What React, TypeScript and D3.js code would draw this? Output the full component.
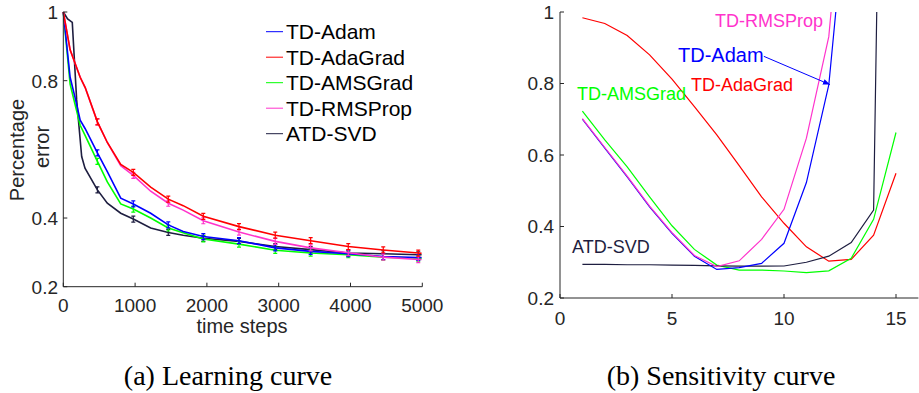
import React, { useEffect, useRef } from 'react';
import * as d3 from 'd3';

// ---- (a) learning curve data ----
const stepsA = [0, 95, 165, 235, 305, 475, 613, 800, 975, 1217, 1462, 1670, 1950, 2447, 2952, 3445, 3969, 4456, 4944, 4990];
const adamA = [1.0, 0.81, 0.75, 0.685, 0.66, 0.59, 0.535, 0.458, 0.441, 0.414, 0.38, 0.361, 0.346, 0.334, 0.313, 0.303, 0.296, 0.288, 0.285, 0.285];
const adagradA = [1.0, 0.89, 0.85, 0.81, 0.78, 0.68, 0.62, 0.556, 0.533, 0.49, 0.455, 0.436, 0.405, 0.375, 0.35, 0.334, 0.317, 0.307, 0.298, 0.297];
const amsgradA = [1.0, 0.79, 0.73, 0.67, 0.64, 0.565, 0.505, 0.441, 0.426, 0.4, 0.371, 0.357, 0.339, 0.324, 0.306, 0.298, 0.293, 0.286, 0.283, 0.283];
const rmspropA = [1.0, 0.89, 0.85, 0.81, 0.78, 0.68, 0.62, 0.552, 0.524, 0.478, 0.443, 0.423, 0.392, 0.359, 0.332, 0.313, 0.299, 0.286, 0.279, 0.279];
const stepsSvd = [0, 60, 125, 186, 256, 302, 475, 613, 800, 975, 1217, 1462, 1670, 1950, 2447, 2952, 3445, 3969, 4456, 4944, 4990];
const svdA = [1.0, 0.98, 0.97, 0.744, 0.579, 0.545, 0.482, 0.443, 0.414, 0.397, 0.371, 0.358, 0.35, 0.341, 0.332, 0.317, 0.308, 0.298, 0.296, 0.293, 0.293];
const markerSteps = [475, 975, 1462, 1950, 2447, 2952, 3445, 3969, 4456, 4944];
const xTicksA = [0, 1000, 2000, 3000, 4000, 5000];
const yTicksA = [0.2, 0.4, 0.8, 1];

// ---- (b) sensitivity curve data ----
const paramB = [1, 2, 3, 4, 5, 6, 7, 8, 9, 10, 11, 12, 13, 14, 15];
const adamB = [0.7, 0.619, 0.539, 0.455, 0.381, 0.317, 0.28, 0.285, 0.297, 0.353, 0.523, 0.796, 1.45];
const rmspropB = [0.702, 0.621, 0.541, 0.457, 0.383, 0.319, 0.288, 0.304, 0.364, 0.448, 0.647, 0.931, 1.62];
const adagradB = [0.984, 0.968, 0.934, 0.88, 0.812, 0.735, 0.656, 0.57, 0.483, 0.409, 0.343, 0.303, 0.308, 0.376, 0.549];
const amsgradB = [0.723, 0.642, 0.567, 0.483, 0.402, 0.336, 0.292, 0.278, 0.278, 0.2755, 0.271, 0.276, 0.311, 0.42, 0.663];
const svdB = [0.294, 0.294, 0.293, 0.293, 0.292, 0.291, 0.29, 0.289, 0.289, 0.2895, 0.3, 0.317, 0.355, 0.446, 4.4];
const xTicksB = [0, 5, 10, 15];
const yTicksB = [0.2, 0.4, 0.6, 0.8, 1];

const names = ['TD-Adam', 'TD-AdaGrad', 'TD-AMSGrad', 'TD-RMSProp', 'ATD-SVD'];
const colors = ['#0000ff', '#ff0000', '#00ff00', '#ff33cc', '#1e1e40'];

const AX = '#262626';
const FONT = '"Liberation Sans", Arial, sans-serif';

export default function App() {
  const ref = useRef<SVGSVGElement>(null);

  useEffect(() => {
    const svg = d3.select(ref.current);
    svg.selectAll('*').remove();

    // ================= (a) =================
    const xA = d3.scaleLinear().domain([0, 5000]).range([63.3, 422.3]);
    const yA = d3.scaleLinear().domain([0.2, 1]).range([286.7, 12]);
    const gA = svg.append('g');

    const seriesA = [
      { steps: stepsA, vals: adamA },
      { steps: stepsA, vals: adagradA },
      { steps: stepsA, vals: amsgradA },
      { steps: stepsA, vals: rmspropA },
      { steps: stepsSvd, vals: svdA },
    ];
    const lineA = d3
      .line<[number, number]>()
      .x((d) => xA(d[0]))
      .y((d) => yA(d[1]));
    // draw order: svd, amsgrad, adam, rmsprop, adagrad
    [4, 2, 0, 3, 1].forEach((si) => {
      const s = seriesA[si];
      const pts = s.steps.map((t, i) => [t, s.vals[i]] as [number, number]);
      gA.append('path')
        .attr('d', lineA(pts))
        .attr('fill', 'none')
        .attr('stroke', colors[si])
        .attr('stroke-width', 1.6);
      pts
        .filter((p) => markerSteps.includes(p[0]))
        .forEach((p) => {
          const cx = xA(p[0]);
          const cy = yA(p[1]);
          gA.append('path')
            .attr('d', `M${cx},${cy - 3}V${cy + 3}M${cx - 2},${cy - 3}H${cx + 2}M${cx - 2},${cy + 3}H${cx + 2}`)
            .attr('stroke', colors[si])
            .attr('stroke-width', 1.2)
            .attr('fill', 'none');
        });
    });

    // axes
    gA.append('path')
      .attr('d', `M${xA(0)},${yA(1)}V${yA(0.2)}H${xA(5000)}`)
      .attr('fill', 'none')
      .attr('stroke', AX)
      .attr('stroke-width', 1);
    xTicksA.forEach((t) => {
      gA.append('line')
        .attr('x1', xA(t)).attr('x2', xA(t))
        .attr('y1', yA(0.2)).attr('y2', yA(0.2) - 4)
        .attr('stroke', AX);
      gA.append('text')
        .attr('x', xA(t))
        .attr('y', 312)
        .attr('text-anchor', 'middle')
        .attr('font-size', 19)
        .attr('font-family', FONT)
        .attr('fill', AX)
        .text(t);
    });
    yTicksA.forEach((t) => {
      gA.append('line')
        .attr('x1', xA(0)).attr('x2', xA(0) + 4)
        .attr('y1', yA(t)).attr('y2', yA(t))
        .attr('stroke', AX);
      gA.append('text')
        .attr('x', 58)
        .attr('y', yA(t))
        .attr('dy', '0.36em')
        .attr('text-anchor', 'end')
        .attr('font-size', 19)
        .attr('font-family', FONT)
        .attr('fill', AX)
        .text(t);
    });
    gA.append('text')
      .attr('x', 242)
      .attr('y', 333)
      .attr('text-anchor', 'middle')
      .attr('font-size', 20)
      .attr('font-family', FONT)
      .attr('fill', AX)
      .text('time steps');
    gA.append('text')
      .attr('transform', 'translate(24,150) rotate(-90)')
      .attr('text-anchor', 'middle')
      .attr('font-size', 20)
      .attr('font-family', FONT)
      .attr('fill', AX)
      .text('Percentage');
    gA.append('text')
      .attr('transform', 'translate(49,147) rotate(-90)')
      .attr('text-anchor', 'middle')
      .attr('font-size', 20)
      .attr('font-family', FONT)
      .attr('fill', AX)
      .text('error');

    // legend
    names.forEach((n, i) => {
      const cy = 31.7 + i * 25.5;
      gA.append('line')
        .attr('x1', 266).attr('x2', 283)
        .attr('y1', cy).attr('y2', cy)
        .attr('stroke', colors[i])
        .attr('stroke-width', 1);
      gA.append('text')
        .attr('x', 286)
        .attr('y', cy)
        .attr('dy', '0.36em')
        .attr('font-size', 21)
        .attr('font-family', FONT)
        .attr('fill', '#000')
        .text(n);
    });

    // ================= (b) =================
    const xB = d3.scaleLinear().domain([0, 16]).range([560, 918.4]);
    const yB = d3.scaleLinear().domain([0.2, 1]).range([298, 12]);
    const gB = svg.append('g');
    const defs = svg.append('defs');
    defs.append('clipPath')
      .attr('id', 'clipB')
      .append('rect')
      .attr('x', 560)
      .attr('y', yB(1))
      .attr('width', 360)
      .attr('height', yB(0.2) - yB(1));
    defs.append('marker')
      .attr('id', 'arrowB')
      .attr('viewBox', '0 0 10 10')
      .attr('refX', 10)
      .attr('refY', 5)
      .attr('markerWidth', 7)
      .attr('markerHeight', 7)
      .attr('orient', 'auto')
      .append('path')
      .attr('d', 'M0,1L10,5L0,9Z')
      .attr('fill', colors[0]);

    const seriesB = [adamB, adagradB, amsgradB, rmspropB, svdB];
    const lineB = d3
      .line<number>()
      .x((_, i) => xB(paramB[i]))
      .y((d) => yB(d));
    const plot = gB.append('g').attr('clip-path', 'url(#clipB)');
    [1, 2, 4, 0, 3].forEach((si) => {
      plot.append('path')
        .attr('d', lineB(seriesB[si]))
        .attr('fill', 'none')
        .attr('stroke', colors[si])
        .attr('stroke-width', 1.2);
    });

    gB.append('path')
      .attr('d', `M${xB(0)},${yB(1)}V${yB(0.2)}H${xB(16)}`)
      .attr('fill', 'none')
      .attr('stroke', AX)
      .attr('stroke-width', 1);
    xTicksB.forEach((t) => {
      gB.append('line')
        .attr('x1', xB(t)).attr('x2', xB(t))
        .attr('y1', yB(0.2)).attr('y2', yB(0.2) - 4)
        .attr('stroke', AX);
      gB.append('text')
        .attr('x', xB(t))
        .attr('y', 325)
        .attr('text-anchor', 'middle')
        .attr('font-size', 19)
        .attr('font-family', FONT)
        .attr('fill', AX)
        .text(t);
    });
    yTicksB.forEach((t) => {
      gB.append('line')
        .attr('x1', xB(0)).attr('x2', xB(0) + 4)
        .attr('y1', yB(t)).attr('y2', yB(t))
        .attr('stroke', AX);
      gB.append('text')
        .attr('x', 554)
        .attr('y', yB(t))
        .attr('dy', '0.36em')
        .attr('text-anchor', 'end')
        .attr('font-size', 19)
        .attr('font-family', FONT)
        .attr('fill', AX)
        .text(t);
    });

    // in-plot labels
    const labels = [
      { i: 3, x: 6.92, y: 0.975, size: 18 },
      { i: 0, x: 5.27, y: 0.881, size: 20 },
      { i: 1, x: 5.85, y: 0.797, size: 18 },
      { i: 2, x: 0.76, y: 0.772, size: 18 },
      { i: 4, x: 0.54, y: 0.343, size: 18 },
    ];
    labels.forEach((l) => {
      gB.append('text')
        .attr('x', xB(l.x))
        .attr('y', yB(l.y))
        .attr('dy', '0.36em')
        .attr('font-size', l.size)
        .attr('font-family', FONT)
        .attr('fill', colors[l.i])
        .text(names[l.i]);
    });
    gB.append('line')
      .attr('x1', xB(9.1))
      .attr('y1', yB(0.876))
      .attr('x2', xB(12.05))
      .attr('y2', yB(0.797))
      .attr('stroke', colors[0])
      .attr('stroke-width', 1)
      .attr('marker-end', 'url(#arrowB)');

    // captions
    [
      { x: 228, t: '(a) Learning curve' },
      { x: 721, t: '(b) Sensitivity curve' },
    ].forEach((c) => {
      svg.append('text')
        .attr('x', c.x)
        .attr('y', 385)
        .attr('text-anchor', 'middle')
        .attr('font-size', 28)
        .attr('font-family', '"Liberation Serif", "Times New Roman", serif')
        .attr('fill', '#000')
        .text(c.t);
    });
  }, []);

  return (
    <svg
      ref={ref}
      width={919}
      height={393}
      style={{ position: 'absolute', left: 0, top: 0, background: '#fff' }}
    />
  );
}
